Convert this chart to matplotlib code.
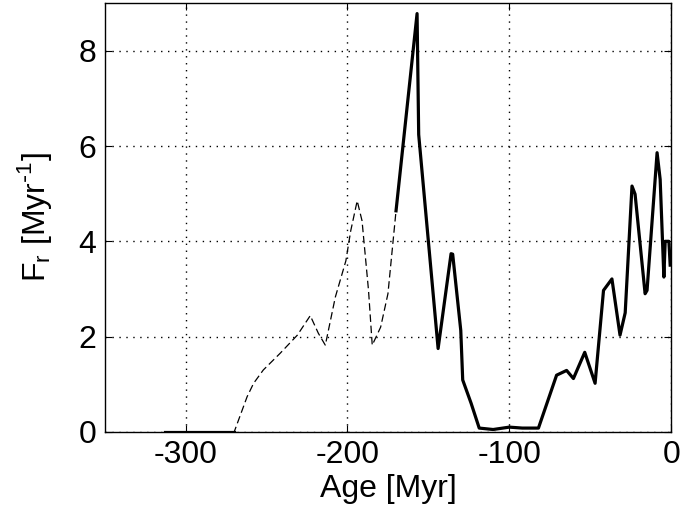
import matplotlib.pyplot as plt
import numpy as np

plt.rcParams['font.family'] = ['Liberation Sans', 'DejaVu Sans']
plt.rcParams['axes.unicode_minus'] = False

# dashed (older) part of the record
age_dash = [-313, -270, -262, -258, -252, -241.6, -231, -223, -218, -213.7, -207.5,
            -201, -198, -194, -191, -187, -184.7, -179.5, -175, -170]
fr_dash = [0.0, 0.0, 0.74, 1.02, 1.3, 1.65, 2.03, 2.44, 2.07, 1.82, 2.83,
           3.59, 4.22, 4.85, 4.43, 2.97, 1.82, 2.2, 2.9, 4.64]

# flat zero stretch that sits on the axis
age_zero = [-313, -270]
fr_zero = [0.0, 0.0]

# solid (younger) part
age_solid = [-170, -157, -156, -144, -136, -135, -130, -128.8, -123.6, -118.6,
             -110, -100, -92, -82, -70.8, -64.6, -60.4, -53.4, -47, -41.8,
             -36.6, -31.6, -28.4, -24.2, -22.3, -16.1, -14.9, -8.7, -6.8,
             -4.5, -3.7, -1.4, -0.6]
fr_solid = [4.64, 8.78, 6.24, 1.75, 3.74, 3.73, 2.13, 1.09, 0.6, 0.08,
            0.05, 0.1, 0.08, 0.08, 1.19, 1.29, 1.12, 1.67, 1.02, 2.97,
            3.21, 2.03, 2.5, 5.16, 4.99, 2.9, 2.97, 5.86, 5.3,
            3.25, 4.0, 4.0, 3.5]

fig = plt.figure(figsize=(6.8, 5.16), dpi=100)
ax = fig.add_axes([0.154, 0.163, 0.833, 0.831])

ax.plot(age_dash, fr_dash, 'k--', lw=0.9, dashes=(6, 3))
ax.plot(age_zero, fr_zero, 'k-', lw=2.3)
ax.plot(age_solid, fr_solid, 'k-', lw=2.3)

ax.set_xlim(-350, 0)
ax.set_ylim(0, 9)
ax.set_xticks([-300, -200, -100, 0])
ax.set_yticks([0, 2, 4, 6, 8])
ax.grid(True, color='k', linestyle=(0, (1, 4)), linewidth=1.0)
ax.tick_params(direction='in', top=True, right=True, labelsize=23, length=5, pad=6)
for s in ax.spines.values():
    s.set_linewidth(1.0)

ax.set_xlabel('Age [Myr]', fontsize=23, labelpad=3)
ax.set_ylabel(r'F$_\mathregular{r}$ [Myr$^\mathregular{\text{-}1}$]', fontsize=23, labelpad=18)

plt.savefig('out.png', facecolor='w')
